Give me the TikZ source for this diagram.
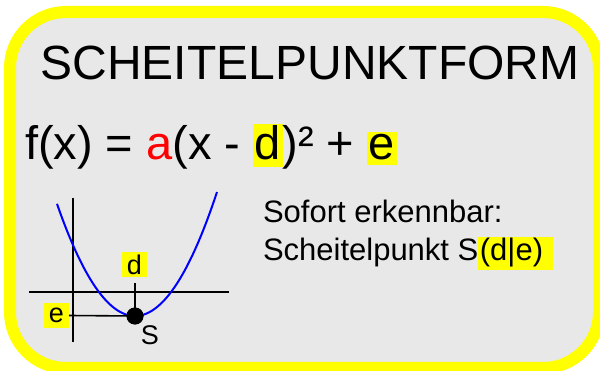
\documentclass[tikz,border=0pt]{standalone}
\usepackage{fontspec}
\setmainfont{Liberation Sans}
\usetikzlibrary{positioning,calc}
\definecolor{marker}{HTML}{FFFF00}
\definecolor{panel}{HTML}{E8E8E8}
\definecolor{coeff}{HTML}{FF0000}
\definecolor{curve}{HTML}{0000FF}
% yellow marker behind a piece of text: #1 text, #2 depth, #3 total height
\newcommand{\markit}[3]{{\setlength{\fboxsep}{0pt}\colorbox{marker}{\rule[-#2]{0pt}{#3}\kern1.5pt#1\kern1.5pt}}}

\begin{document}
\begin{tikzpicture}[
  x=1pt, y=-1pt,
  every node/.style={inner sep=0pt, outer sep=0pt},
  frame/.style={draw=marker, fill=panel, line width=12pt, rounded corners=56pt},
  axis/.style={draw=black, line width=1.6pt},
  parabola/.style={draw=curve, line width=2pt},
  tag/.style={fill=marker, minimum width=25pt, minimum height=25pt,
              font=\fontsize{27}{27}\selectfont},
  vertex/.style={circle, fill=black, minimum size=17pt}
]
  \useasboundingbox (0,0) rectangle (600,371);
  \path[frame] (10,12) rectangle (599,368);

  \node[anchor=base, font=\fontsize{48}{48}\selectfont] (title) at (310,80)
    {SCHEITELPUNKTFORM};
  \node[anchor=base west, font=\fontsize{47}{47}\selectfont] (formula) at (25,160)
    {f(x) = \textcolor{coeff}{a}(x - \markit{d}{7pt}{43pt})² + \markit{e}{5pt}{33pt}};

  \node[anchor=base west, align=left, font=\fontsize{31}{38}\selectfont] (info) at (263,261)
    {Sofort erkennbar:\\
     Scheitelpunkt S\markit{(d|e)\ }{9pt}{33pt}};

  % coordinate cross and parabola
  \draw[axis] (29,292) -- (229,292);
  \draw[axis] (73,198) -- (73,342);
  \draw[parabola] plot[domain=-78:82, smooth, samples=60]
    ({135+\x},{316-118*(\x/80)^2});

  \node[vertex] (S) at (135,316) {};
  \node[font=\fontsize{27}{27}\selectfont] (Slab) at (150,335) {S};
  \node[tag] (d) at (134.5,265) {d};
  \node[tag] (e) at (56.5,315.5) {e};
  \coordinate (dfoot) at (135,283);

  \draw[axis] (S.center) -- (dfoot);
  \draw[axis] (S.center) -- (e.east);
  \node[vertex] at (S) {};
\end{tikzpicture}
\end{document}
